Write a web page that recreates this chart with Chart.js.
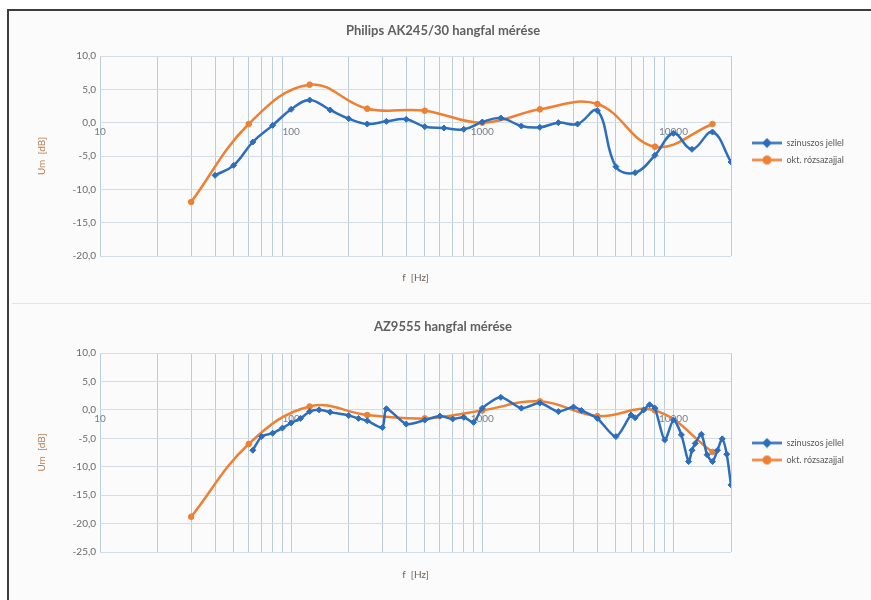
<!DOCTYPE html>
<html>
<head>
<meta charset="utf-8">
<script src="https://cdn.jsdelivr.net/npm/chart.js@4.4.1/dist/chart.umd.min.js"></script>
<style>
html,body{margin:0;padding:0;background:#fff;}
#wrap{position:relative;width:871px;height:600px;overflow:hidden;background:#fff;}
#frame{position:absolute;left:7px;top:9px;width:880px;height:600px;border-top:2px solid #3c3c3c;border-left:2px solid #3c3c3c;background:#fbfbfc;}
#sep{position:absolute;left:12px;width:859px;top:303px;height:1px;background:#e1e4e8;}
canvas{position:absolute;left:0;}
#c1{top:0;}
#c2{top:303px;}
</style>
</head>
<body>
<div id="wrap">
  <div id="frame"></div>
  <div id="sep"></div>
  <canvas id="c1" width="871" height="303"></canvas>
  <canvas id="c2" width="871" height="297"></canvas>
</div>
<script>
// ---------- data ----------
const seriesNames = ['szinuszos jellel', 'okt. rózsazajjal'];
const chartTitles = ['Philips AK245/30 hangfal mérése', 'AZ9555 hangfal mérése'];
const xAxisTitle = 'f  [Hz]';
const yAxisTitle = 'Um  [dB]';
const xLabelValues = [10, 100, 1000, 10000];

// top chart (Philips)
const topSinFreq = [40, 50, 63, 80, 100, 125, 160, 200, 250, 315, 400, 500, 630, 800, 1000, 1250, 1600, 2000, 2500, 3150, 4000, 5000, 6300, 8000, 10000, 12500, 16000, 20000];
const topSinVals = [-7.9, -6.4, -2.9, -0.4, 2.0, 3.4, 1.9, 0.6, -0.2, 0.2, 0.5, -0.6, -0.8, -1.0, 0.1, 0.7, -0.5, -0.7, 0.0, -0.2, 1.8, -6.6, -7.5, -4.9, -1.6, -4.0, -1.4, -5.9];
const topOctFreq = [30, 60, 125, 250, 500, 1000, 2000, 4000, 8000, 16000];
const topOctVals = [-11.9, -0.2, 5.7, 2.1, 1.8, 0.0, 2.0, 2.8, -3.6, -0.2];
const topYTicks = [10, 5, 0, -5, -10, -15, -20];
const topGrid = [10, 20, 30, 40, 50, 60, 70, 80, 90, 200, 300, 400, 500, 600, 700, 800, 900, 2000, 3000, 4000, 5000, 6000, 7000, 8000, 9000, 20000];

// bottom chart (AZ9555)
const botSinFreq = [63, 70, 80, 90, 100, 112, 125, 140, 160, 200, 225, 250, 300, 315, 400, 500, 600, 700, 800, 900, 1000, 1250, 1600, 2000, 2500, 3000, 3300, 4000, 5000, 6000, 6300, 7000, 7500, 8000, 9000, 10000, 11000, 12000, 12500, 13000, 14000, 15000, 16000, 17000, 18000, 19000, 20000];
const botSinVals = [-7.1, -4.7, -4.1, -3.2, -2.3, -1.5, -0.3, 0.0, -0.4, -1.0, -1.5, -1.9, -3.1, 0.2, -2.5, -1.8, -1.1, -1.6, -1.3, -2.2, 0.3, 2.2, 0.3, 1.2, -0.3, 0.5, -0.1, -1.5, -4.7, -0.9, -1.4, 0.0, 0.9, 0.3, -5.3, -1.8, -4.4, -9.1, -7.1, -5.9, -4.3, -7.9, -9.1, -7.1, -5.1, -7.8, -13.2];
const botOctFreq = [30, 60, 125, 250, 500, 1000, 2000, 4000, 8000, 16000];
const botOctVals = [-18.8, -6.0, 0.6, -0.9, -1.5, -0.1, 1.5, -1.1, -0.1, -7.4];
const botYTicks = [10, 5, 0, -5, -10, -15, -20, -25];
const botGrid = [10, 20, 30, 40, 50, 60, 70, 80, 90, 100, 200, 300, 400, 500, 600, 700, 800, 900, 1000, 2000, 3000, 4000, 5000, 6000, 7000, 8000, 9000, 10000, 20000];

// ---------- styling ----------
const FONT = 'Lato, "Open Sans", sans-serif';
const BLUE = '#2c6dbc';
const ORANGE = '#ee8033';
const VGRID = '#bccdda';
const HGRID = '#d3dde6';
const PLOT_LEFT = 100, PLOT_RIGHT = 731;

function pts(f, v) { return f.map((x, i) => ({x: x, y: v[i]})); }

function legendIcon(color, style) {
  const c = document.createElement('canvas');
  c.width = 43; c.height = 11;
  const g = c.getContext('2d');
  g.strokeStyle = color; g.lineWidth = 2.5;
  g.beginPath(); g.moveTo(13, 5.5); g.lineTo(43, 5.5); g.stroke();
  g.fillStyle = color;
  Chart.helpers.drawPoint(g, {pointStyle: style, radius: 3.2, rotation: 0, borderWidth: 1}, 28, 5.5);
  return c;
}

function makeChart(id, cfg) {
  const st = {lp: 25, rp: 10};
  const icons = [legendIcon(BLUE, 'rectRot'), legendIcon(ORANGE, 'circle')];
  const chart = new Chart(document.getElementById(id), {
    type: 'line',
    data: {
      datasets: [
        {label: seriesNames[0], data: pts(cfg.sinF, cfg.sinV), xAxisID: 'x', yAxisID: 'y',
         borderColor: BLUE, backgroundColor: BLUE, borderWidth: 2.5, tension: cfg.sinT,
         pointStyle: 'rectRot', pointRadius: 3, pointBorderWidth: 1, pointBackgroundColor: BLUE, pointBorderColor: BLUE},
        {label: seriesNames[1], data: pts(cfg.octF, cfg.octV), xAxisID: 'x', yAxisID: 'y',
         borderColor: ORANGE, backgroundColor: ORANGE, borderWidth: 2.5, tension: 0.4,
         pointStyle: 'circle', pointRadius: 2.8, pointBorderWidth: 1, pointBackgroundColor: ORANGE, pointBorderColor: ORANGE}
      ]
    },
    options: {
      responsive: false,
      animation: false,
      events: [],
      layout: {padding: {left: st.lp, right: st.rp, top: 0, bottom: 0}},
      plugins: {
        tooltip: {enabled: false},
        title: {display: true, text: cfg.title, color: '#606060',
                font: {family: FONT, size: 13, weight: 'bold'},
                padding: {top: cfg.tTop, bottom: cfg.tBot}},
        legend: {position: 'right', align: 'center',
          labels: {usePointStyle: true, pointStyleWidth: 43, boxHeight: 9, padding: 8,
                   color: '#595959', font: {family: FONT, size: 9},
                   generateLabels: (ch) => ch.data.datasets.map((d, i) => ({
                     text: d.label, pointStyle: icons[i], fillStyle: d.borderColor,
                     strokeStyle: d.borderColor, lineWidth: 0, hidden: false, datasetIndex: i,
                     fontColor: '#595959'}))}}
      },
      scales: {
        x: {type: 'logarithmic', axis: 'x', min: 10, max: 20000, position: 'bottom',
            border: {display: false},
            grid: {color: VGRID, lineWidth: 1, drawTicks: false},
            ticks: {display: false},
            afterBuildTicks: (s) => { s.ticks = cfg.grid.map(v => ({value: v})); },
            afterFit: (s) => { s.height = cfg.xH; },
            title: {display: true, text: xAxisTitle, color: '#6f625a',
                    font: {family: FONT, size: 10}, padding: {top: 0, bottom: 19}}},
        xl: {type: 'logarithmic', axis: 'x', min: 10, max: 20000, position: {y: 0},
             border: {display: false},
             grid: {display: false, drawTicks: false},
             ticks: {autoSkip: false, maxRotation: 0, minRotation: 0, padding: 3,
                     color: '#7a7f86', font: {family: FONT, size: 10},
                     callback: (v) => String(v)},
             afterBuildTicks: (s) => { s.ticks = xLabelValues.map(v => ({value: v})); }},
        y: {type: 'linear', min: cfg.yTicks[cfg.yTicks.length - 1], max: cfg.yTicks[0], position: 'left',
            border: {display: false},
            grid: {color: HGRID, lineWidth: 1, drawTicks: false},
            ticks: {padding: 4, color: '#6a6a6a', font: {family: FONT, size: 10},
                    callback: (v) => v.toFixed(1).replace('.', ',')},
            afterBuildTicks: (s) => { s.ticks = cfg.yTicks.map(v => ({value: v})); },
            afterFit: (s) => { s.width = PLOT_LEFT - st.lp; },
            title: {display: true, text: yAxisTitle, color: '#b87d52',
                    font: {family: FONT, size: 10}, padding: {top: 11, bottom: 0}}}
      }
    }
  });
  // second pass: place plot right edge and title centre like the reference
  const lw = chart.legend.width;
  st.rp = Math.max(0, 871 - PLOT_RIGHT - lw);
  st.lp = 15 + st.rp;
  chart.options.layout.padding.left = st.lp;
  chart.options.layout.padding.right = st.rp;
  chart.options.scales.y.title.padding = {top: Math.max(0, 36 - st.lp), bottom: 0};
  chart.update('none');
  return chart;
}

makeChart('c1', {title: chartTitles[0], sinF: topSinFreq, sinV: topSinVals, sinT: 0.4,
  octF: topOctFreq, octV: topOctVals, yTicks: topYTicks, grid: topGrid,
  xH: 47, tTop: 23.2, tBot: 17.2});
makeChart('c2', {title: chartTitles[1], sinF: botSinFreq, sinV: botSinVals, sinT: 0.25,
  octF: botOctFreq, octV: botOctVals, yTicks: botYTicks, grid: botGrid,
  xH: 48, tTop: 16.5, tBot: 17.9});
</script>
</body>
</html>
